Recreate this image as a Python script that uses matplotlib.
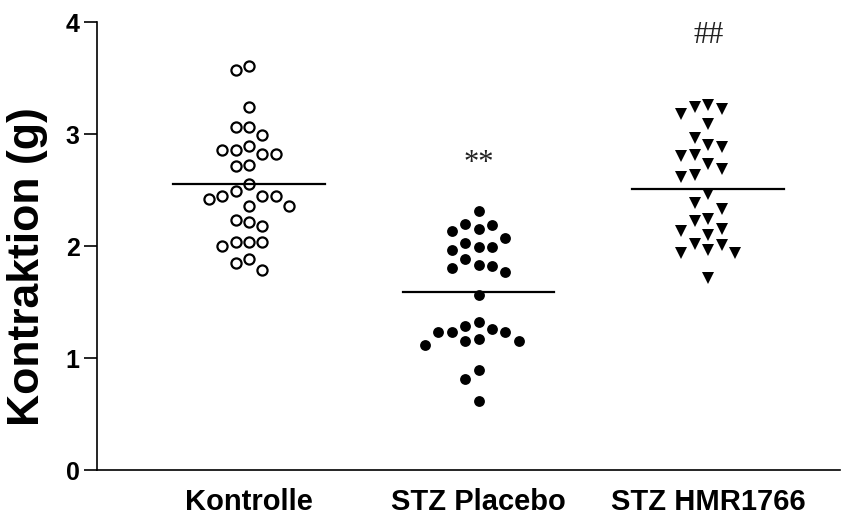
import matplotlib
matplotlib.use("Agg")
import matplotlib.pyplot as plt
import numpy as np

groups = ["Kontrolle", "STZ Placebo", "STZ HMR1766"]

kontrolle = [3.61, 3.57, 3.24, 3.06, 3.06, 2.99, 2.89, 2.86, 2.86, 2.82, 2.82,
             2.72, 2.71, 2.55, 2.49, 2.45, 2.45, 2.45, 2.42, 2.36, 2.36, 2.23,
             2.21, 2.18, 2.04, 2.04, 2.04, 2.00, 1.88, 1.85, 1.79]
placebo = [2.31, 2.20, 2.19, 2.15, 2.13, 2.07, 2.03, 1.99, 1.99, 1.96, 1.88,
           1.83, 1.82, 1.80, 1.77, 1.56, 1.32, 1.29, 1.26, 1.23, 1.23, 1.23,
           1.17, 1.15, 1.15, 1.12, 0.89, 0.81, 0.62]
hmr = [3.26, 3.24, 3.22, 3.18, 3.09, 2.96, 2.90, 2.88, 2.81, 2.80, 2.73,
       2.69, 2.63, 2.62, 2.46, 2.38, 2.33, 2.24, 2.22, 2.15, 2.13, 2.10,
       2.02, 2.01, 1.96, 1.94, 1.94, 1.71]
means = [2.55, 1.59, 2.51]
marks = ["", "**", "##"]
mark_y = [0, 2.74, 3.88]


def swarm(values, slot=0.0584, gap=0.14):
    """ greedy grid swarm: put each point in the nearest free column """
    order = np.argsort(values)[::-1]
    placed = []
    offsets = np.zeros(len(values))
    for i in order:
        v = values[i]
        for k in [0, -1, 1, -2, 2, -3, 3, -4, 4]:
            if all(not (pk == k and abs(pv - v) < gap) for pk, pv in placed):
                break
        placed.append((k, v))
        offsets[i] = k * slot
    return offsets


fig = plt.figure(figsize=(8.53, 5.19), dpi=100)
ax = fig.add_axes([0.1137, 0.0944, 0.8711, 0.8632])
plt.rcParams['font.family'] = ['Liberation Sans', 'DejaVu Sans']

styles = [dict(marker='o', mfc='white', mec='black', mew=1.6, ms=7.3),
          dict(marker='o', mfc='black', mec='black', mew=0, ms=7.8),
          dict(marker='v', mfc='black', mec='black', mew=0, ms=8.8)]

for i, vals in enumerate([kontrolle, placebo, hmr]):
    vals = np.array(vals)
    x = i + 1 + swarm(vals)
    ax.plot(x, vals, linestyle='none', **styles[i])
    ax.plot([i + 1 - 0.33, i + 1 + 0.33], [means[i], means[i]], color='black', lw=1.6)
    if marks[i]:
        ax.text(i + 1, mark_y[i], marks[i], ha='center', va='center',
                fontsize=22, family='Liberation Serif', color='#222222')

ax.set_xlim(0.338, 3.574)
ax.set_ylim(0, 4)
ax.set_yticks([0, 1, 2, 3, 4])
ax.set_xticks([1, 2, 3])
ax.set_xticklabels(groups, fontsize=21, fontweight='bold', family='Liberation Sans')
ax.tick_params(axis='x', length=0, pad=13)
ax.tick_params(axis='y', length=9.5, width=1.2, pad=3, labelsize=18)
for lab in ax.get_yticklabels():
    lab.set_fontweight('bold')
    lab.set_family('Liberation Sans')
ax.set_ylabel("Kontraktion (g)", fontsize=32, fontweight='bold',
              family='Liberation Sans')
ax.yaxis.set_label_coords(-0.066, 0.453)
ax.spines['right'].set_visible(False)
ax.spines['top'].set_visible(False)
ax.spines['left'].set_linewidth(1.2)
ax.spines['bottom'].set_linewidth(1.2)

fig.savefig("out.png", dpi=100)
